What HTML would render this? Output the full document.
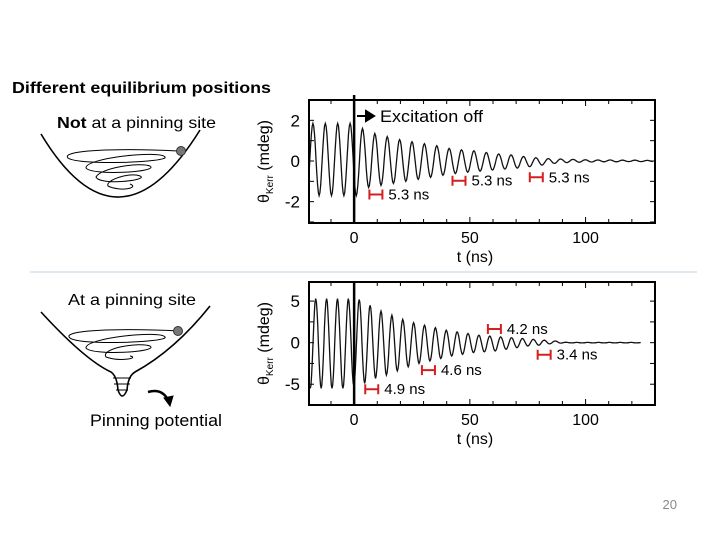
<!DOCTYPE html>
<html><head><meta charset="utf-8"><style>
body{margin:0;background:#fff;width:720px;height:540px;overflow:hidden;font-family:"Liberation Sans",sans-serif}
svg{position:absolute;left:0;top:0}
</style></head><body>
<svg width="720" height="540" viewBox="0 0 720 540" font-family="Liberation Sans, sans-serif">
<text x="12" y="93" font-size="16" font-weight="bold" textLength="259" lengthAdjust="spacingAndGlyphs">Different equilibrium positions</text>
<text x="57" y="128" font-size="16" textLength="159" lengthAdjust="spacingAndGlyphs"><tspan font-weight="bold">Not</tspan> at a pinning site</text>
<text x="68" y="305" font-size="16" textLength="128" lengthAdjust="spacingAndGlyphs">At a pinning site</text>
<text x="90" y="426" font-size="17" textLength="132" lengthAdjust="spacingAndGlyphs">Pinning potential</text>
<line x1="30" y1="272" x2="697" y2="272" stroke="#cfdce6" stroke-width="1.2"/>
<text x="677" y="509" font-size="13" fill="#888" text-anchor="end">20</text>
<g fill="none" stroke="#000">
<path d="M41 134 Q118 262 200 130" stroke-width="1.6"/>
<path d="M178 151 C120 148 60 150 68 158 C80 166 170 162 165 157 C160 150 85 158 86 168 C92 176 160 172 150 166 C140 162 100 168 96 177 C100 186 150 180 140 176 C130 172 105 180 108 186 C120 192 140 188 130 184" stroke-width="1"/>
<circle cx="181" cy="151" r="4.5" fill="#777" stroke="#333"/>
</g>
<g fill="none" stroke="#000">
<path d="M41 312 Q85 360 111 372 Q117 376 118 390 Q122 402 127 390 Q128 376 135 372 Q175 350 210 306" stroke-width="1.6"/>
<path d="M180 331 C120 328 60 330 70 338 C80 346 170 342 165 337 C160 330 85 338 86 348 C92 356 160 352 150 346 C140 342 100 348 106 357 C120 362 140 358 130 356 M113 378 L131 378 M114 384 L130 384 M116 390 L128 390" stroke-width="1"/>
<circle cx="178" cy="331" r="4.5" fill="#777" stroke="#333"/>
<path d="M148 392 Q162 388 168 400" stroke-width="2.5"/>
<path d="M164 398 L170 406 L173 396 Z" fill="#000"/>
</g>
<g id="plots"></g>
</svg>
<script>
// top chart data
const topPeriod = 5.35;
const topT0 = -17.8;
const topPeaks = [1.85,1.85,1.85,1.85,1.6,1.35,1.2,1.05,0.95,0.85,0.75,0.62,0.55,0.5,0.42,0.35,0.3,0.22,0.16,0.12,0.1,0.08,0.06,0.05,0.05,0.04,0.04,0.03,0.03];
const topTroughs = [-1.7,-1.7,-1.7,-1.7,-1.3,-1.2,-1.1,-1.0,-0.9,-0.8,-0.7,-0.62,-0.55,-0.5,-0.45,-0.4,-0.35,-0.28,-0.2,-0.12,-0.08,-0.06,-0.05,-0.04,-0.04,-0.03,-0.03,-0.03,-0.03];
const topYTicks = [-2,0,2];
// bottom chart data
const botPeriod = 4.7;
const botT0 = -16.6;
const botPeaks = [5.3,5.3,5.3,5.3,5.2,4.5,3.8,3.3,2.8,2.4,2.1,1.8,1.5,1.3,1.1,0.9,0.8,0.7,0.6,0.5,0.4,0.3,0.2,0.05,0.03,0.03,0.03,0.03,0.03,0.03,0.03];
const botTroughs = [-5.5,-5.5,-5.5,-5.2,-4.9,-4.3,-3.9,-3.4,-2.9,-2.5,-2.2,-1.9,-1.6,-1.4,-1.2,-1.1,-1.0,-0.8,-0.6,-0.4,-0.3,-0.15,-0.05,-0.03,-0.03,-0.03,-0.03,-0.03,-0.03,-0.03,-0.03];
const botYTicks = [-5,0,5];
const xTicks = [0,50,100];
const topNotes = [[6.6,-1.65,"5.3 ns"],[42.5,-0.97,"5.3 ns"],[75.9,-0.8,"5.3 ns"]];
const botNotes = [[4.8,-5.6,"4.9 ns"],[29.3,-3.3,"4.6 ns"],[57.8,1.65,"4.2 ns"],[79.3,-1.45,"3.4 ns"]];

const NS='http://www.w3.org/2000/svg';
const root=document.getElementById('plots');
function mk(tag,attrs,parent){const e=document.createElementNS(NS,tag);for(const k in attrs)e.setAttribute(k,attrs[k]);(parent||root).appendChild(e);return e;}

function chart(cfg){
  const {top,bottom,ymin,ymax,period,t0,peaks,troughs,yTicks,notes,tEnd,name}=cfg;
  const L=309,R=655,xmin=-19.5,xmax=130;
  const X=t=>L+(t-xmin)/(xmax-xmin)*(R-L);
  const Y=v=>bottom-(v-ymin)/(ymax-ymin)*(bottom-top);
  const g=mk('g',{});
  
  
  let d='';
  const ext=[];
  for(let k=0;k<peaks.length;k++){ext.push([t0+k*period,peaks[k]]);ext.push([t0+k*period+period/2,troughs[k]]);}
  ext.unshift([t0-period/2,troughs[0]]);
  let first=true;
  for(let i=0;i<ext.length-1;i++){
    const [ta,va]=ext[i],[tb,vb]=ext[i+1];
    for(let s=0;s<=8;s++){
      const t=ta+(tb-ta)*s/8;
      if(t<xmin||t>tEnd)continue;
      const v=va+(vb-va)*(1-Math.cos(Math.PI*s/8))/2;
      d+=(first?'M':'L')+X(t).toFixed(1)+' '+Y(v).toFixed(1)+' ';first=false;
    }
  }
  const p=mk('path',{d,fill:'none',stroke:'#111','stroke-width':1.3},g);
  
  
  const fr=mk('rect',{x:L,y:top,width:R-L,height:bottom-top,fill:'none',stroke:'#000','stroke-width':2},g);
  
  
  for(let t=-10;t<=130;t+=10){
    const len=(t%50===0)?6:4;
    mk('line',{x1:X(t),x2:X(t),y1:bottom,y2:bottom-len,stroke:'#000','stroke-width':1},g);
    mk('line',{x1:X(t),x2:X(t),y1:top,y2:top+len,stroke:'#000','stroke-width':1},g);
  }
  const step=yTicks[1]-yTicks[0];
  for(let v=Math.ceil(ymin/(step/2))*(step/2);v<=ymax;v+=step/2){
    mk('line',{x1:L,x2:L+5,y1:Y(v),y2:Y(v),stroke:'#000'},g);
    mk('line',{x1:R,x2:R-5,y1:Y(v),y2:Y(v),stroke:'#000'},g);
  }
  yTicks.forEach(v=>{
    const tl=mk('text',{x:L-9,y:Y(v)+6,'font-size':17,'text-anchor':'end'},g);
    tl.textContent=v;
    
    
  });
  xTicks.forEach(v=>{
    const tl=mk('text',{x:X(v),y:bottom+20,'font-size':16,'text-anchor':'middle'},g);
    tl.textContent=v;
    
    
  });
  const xl=mk('text',{x:475,y:bottom+39,'font-size':16,'text-anchor':'middle'},g);
  xl.textContent='t (ns)';
  
  
  const cy=(top+bottom)/2;
  const yl=mk('text',{x:0,y:0,'font-size':16,'text-anchor':'middle',transform:`translate(269 ${cy}) rotate(-90)`},g);
  yl.innerHTML='θ<tspan font-size="10" dy="4">Kerr</tspan><tspan dy="-4"> (mdeg)</tspan>';
  
  
  const zl=mk('line',{x1:X(0),x2:X(0),y1:cfg.lineTop,y2:bottom,stroke:'#000','stroke-width':2.5},g);
  
  
  notes.forEach(([t,v,lab])=>{
    const x1=X(t),x2=X(t)+13,y=Y(v);
    const eb=mk('path',{d:`M${x1} ${y-5}V${y+5}M${x1} ${y}H${x2}M${x2} ${y-5}V${y+5}`,stroke:'#d42020','stroke-width':2,fill:'none'},g);
    
    
    const tx=mk('text',{x:x2+6,y:y+5,'font-size':15},g);
    tx.textContent=lab;
    
    
  });
}
chart({name:'top-chart',top:100,bottom:223,ymin:-3.05,ymax:3.0,period:topPeriod,t0:topT0,peaks:topPeaks,troughs:topTroughs,yTicks:topYTicks,notes:topNotes,tEnd:129,lineTop:95});
chart({name:'bottom-chart',top:282,bottom:405,ymin:-7.5,ymax:7.3,period:botPeriod,t0:botT0,peaks:botPeaks,troughs:botTroughs,yTicks:botYTicks,notes:botNotes,tEnd:124,lineTop:282});
const ar=mk('path',{d:'M357 116H372M366 111L374 116L366 121Z',stroke:'#000','stroke-width':2,fill:'#000'});


const ex=mk('text',{x:380,y:122,'font-size':17,textLength:103,lengthAdjust:'spacingAndGlyphs'});
ex.textContent='Excitation off';


</script>
</body></html>
